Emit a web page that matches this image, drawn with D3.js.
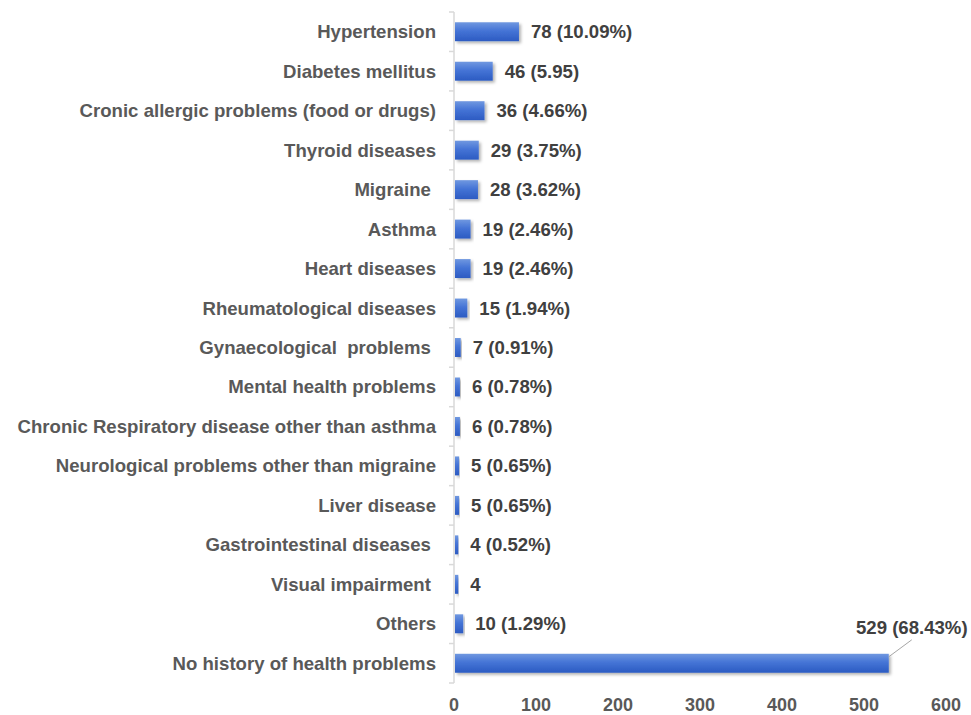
<!DOCTYPE html>
<html>
<head>
<meta charset="utf-8">
<script src="https://cdn.jsdelivr.net/npm/d3@7"></script>
<style>
  body { margin: 0; background: #fff; }
  text { font-family: "Liberation Sans", Arial, sans-serif; font-weight: bold; white-space: pre; }
</style>
</head>
<body>
<svg id="drawing_region"></svg>
<script>
const categories = [
    'Hypertension', 'Diabetes mellitus', 'Cronic allergic problems (food or drugs)',
    'Thyroid diseases', 'Migraine ', 'Asthma', 'Heart diseases', 'Rheumatological diseases',
    'Gynaecological  problems ', 'Mental health problems', 'Chronic Respiratory disease other than asthma',
    'Neurological problems other than migraine', 'Liver disease', 'Gastrointestinal diseases ',
    'Visual impairment ', 'Others', 'No history of health problems'
];
const values = [78, 46, 36, 29, 28, 19, 19, 15, 7, 6, 6, 5, 5, 4, 4, 10, 529];
const valueLabels = [
    '78 (10.09%)', '46 (5.95)', '36 (4.66%)', '29 (3.75%)', '28 (3.62%)', '19 (2.46%)',
    '19 (2.46%)', '15 (1.94%)', '7 (0.91%)', '6 (0.78%)', '6 (0.78%)', '5 (0.65%)',
    '5 (0.65%)', '4 (0.52%)', '4', '10 (1.29%)', '529 (68.43%)'
];
const xTicks = [0, 100, 200, 300, 400, 500, 600];

class HBarChart {
    constructor(config, data) {
        this.config = config;
        this.data = data;
        this.init();
    }

    init() {
        const self = this;
        self.svg = d3.select(self.config.parent)
            .attr('width', self.config.width)
            .attr('height', self.config.height);

        const defs = self.svg.append('defs');
        const grad = defs.append('linearGradient')
            .attr('id', 'barfill').attr('x1', 0).attr('y1', 0).attr('x2', 0).attr('y2', 1);
        grad.append('stop').attr('offset', '0%').attr('stop-color', '#7098e0');
        grad.append('stop').attr('offset', '45%').attr('stop-color', '#4574d6');
        grad.append('stop').attr('offset', '100%').attr('stop-color', '#2c5bc2');

        const filt = defs.append('filter').attr('id', 'shadow')
            .attr('x', '-10%').attr('y', '-30%').attr('width', '130%').attr('height', '190%');
        filt.append('feDropShadow').attr('dx', 2).attr('dy', 2).attr('stdDeviation', 1.5)
            .attr('flood-color', '#000').attr('flood-opacity', 0.3);

        self.xscale = d3.scaleLinear()
            .domain([0, 600])
            .range([454, 946]);

        self.yscale = d3.scaleBand()
            .domain(categories)
            .range([12, 683])
            .paddingInner(0.52)
            .paddingOuter(0.26);
    }

    render() {
        const self = this;
        const x = self.xscale, y = self.yscale;
        const step = y.step();

        // y axis line and boundary ticks
        self.svg.append('line')
            .attr('x1', x(0)).attr('x2', x(0))
            .attr('y1', 12).attr('y2', 683)
            .attr('stroke', '#d9d9d9').attr('stroke-width', 1.5);

        const bounds = d3.range(categories.length + 1).map(i => 12 + i * step);
        self.svg.append('g').selectAll('line')
            .data(bounds)
            .join('line')
            .attr('x1', x(0) - 5).attr('x2', x(0))
            .attr('y1', d => d).attr('y2', d => d)
            .attr('stroke', '#d9d9d9').attr('stroke-width', 1.5);

        // category labels
        self.svg.append('g').selectAll('text')
            .data(categories)
            .join('text')
            .attr('x', x(0) - 18)
            .attr('y', d => y(d) + y.bandwidth() / 2)
            .attr('dy', '0.35em')
            .attr('text-anchor', 'end')
            .attr('font-size', 18.6)
            .attr('fill', '#595959')
            .text(d => d);

        // bars
        self.svg.append('g').selectAll('rect')
            .data(self.data)
            .join('rect')
            .attr('x', x(0) + 1)
            .attr('y', d => y(d.cat))
            .attr('width', d => x(d.value) - x(0))
            .attr('height', y.bandwidth())
            .attr('fill', 'url(#barfill)')
            .attr('filter', 'url(#shadow)');

        // value labels
        const last = self.data[self.data.length - 1];
        self.svg.append('g').selectAll('text')
            .data(self.data.slice(0, -1))
            .join('text')
            .attr('x', d => x(d.value) + 13)
            .attr('y', d => y(d.cat) + y.bandwidth() / 2)
            .attr('dy', '0.35em')
            .attr('font-size', 18.6)
            .attr('fill', '#404040')
            .text(d => d.label);

        // leader label for the long bar
        const bx = x(last.value) + 1, by = y(last.cat);
        self.svg.append('line')
            .attr('x1', bx).attr('y1', by + 3)
            .attr('x2', bx + 23).attr('y2', by - 14)
            .attr('stroke', '#a6a6a6').attr('stroke-width', 1);
        self.svg.append('text')
            .attr('x', bx + 23).attr('y', by - 20)
            .attr('text-anchor', 'middle')
            .attr('font-size', 18.6)
            .attr('fill', '#404040')
            .text(last.label);

        // x axis labels
        self.svg.append('g').selectAll('text')
            .data(xTicks)
            .join('text')
            .attr('x', d => x(d))
            .attr('y', 711)
            .attr('text-anchor', 'middle')
            .attr('font-size', 18)
            .attr('fill', '#595959')
            .text(d => d);
    }
}

const data = categories.map((c, i) => ({ cat: c, value: values[i], label: valueLabels[i] }));
const chart = new HBarChart({ parent: '#drawing_region', width: 971, height: 715 }, data);
chart.render();
</script>
</body>
</html>
